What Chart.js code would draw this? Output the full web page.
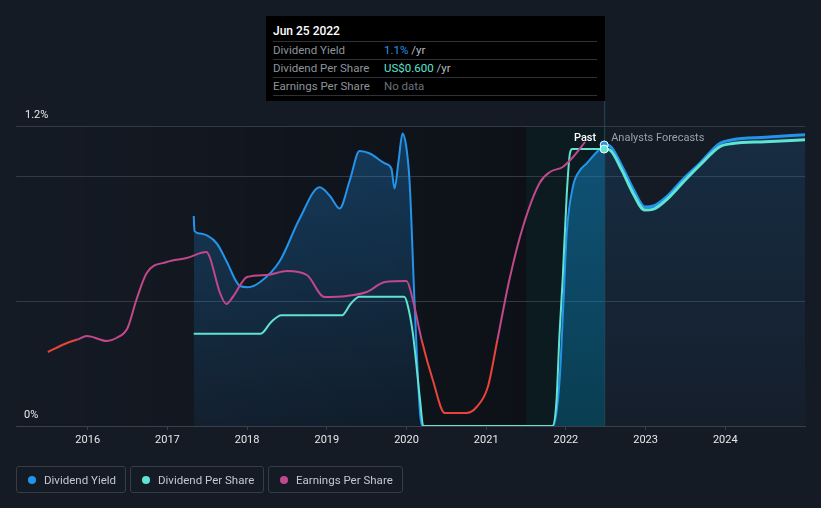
<!DOCTYPE html>
<html>
<head>
<meta charset="utf-8">
<script src="https://cdn.jsdelivr.net/npm/chart.js@4"></script>
<style>
  html, body { margin: 0; padding: 0; background: #151b25; }
  #wrap { position: relative; width: 821px; height: 508px; background: #151b25; font-family: Roboto, sans-serif; overflow: hidden; }
  #chartBox { position: absolute; left: 0; top: 0; width: 821px; height: 508px; }
  #tip { position: absolute; left: 266px; top: 16px; width: 339px; height: 85px; background: #000; box-sizing: border-box; padding: 0 8px 0 7px; }
  #tip .title { color: #fff; font-size: 12px; font-weight: 500; height: 25px; line-height: 30px; border-bottom: 1px solid #2e3138; }
  #tip .row { height: 17px; line-height: 17px; font-size: 11.5px; color: #8d939b; border-bottom: 1px solid #2e3138; display: flex; }
  #tip .row .lab { width: 111px; }
  #tip .unit { color: #b9bcc1; }
  .lg { position: absolute; top: 466px; height: 27px; border: 1px solid #363c48; border-radius: 3px; box-sizing: border-box; display: flex; align-items: center; color: #c4c8ce; font-size: 11.5px; }
  .lg .dot { width: 8px; height: 8px; border-radius: 50%; margin-left: 11px; margin-right: 8px; }
</style>
</head>
<body>
<div id="wrap">
  <div id="chartBox"><canvas id="chart"></canvas></div>
  <div id="tip">
    <div class="title">Jun 25 2022</div>
    <div class="row"><span class="lab">Dividend Yield</span><span><span style="color:#2394ea">1.1%</span> <span class="unit">/yr</span></span></div>
    <div class="row"><span class="lab">Dividend Per Share</span><span><span style="color:#5fe3d3">US$0.600</span> <span class="unit">/yr</span></span></div>
    <div class="row"><span class="lab">Earnings Per Share</span><span style="color:#6b7078">No data</span></div>
  </div>
  <div class="lg" style="left:16px;width:110px"><span class="dot" style="background:#2394ea"></span>Dividend Yield</div>
  <div class="lg" style="left:130px;width:134px"><span class="dot" style="background:#5fe3d3"></span>Dividend Per Share</div>
  <div class="lg" style="left:268px;width:135px"><span class="dot" style="background:#c1488a"></span>Earnings Per Share</div>
</div>
<script>
// x ticks and markers (decimal years)
const yearTicks = [2016, 2017, 2018, 2019, 2020, 2021, 2022, 2023, 2024];
const bandStart = 2021.5;
const todayX = 2022.48;

// Dividend yield (%), past and forecast
const yieldPastX = [2017.33, 2017.34, 2017.41, 2017.62, 2017.74, 2017.91, 2018.01, 2018.16, 2018.41, 2018.66, 2018.91, 2019.04, 2019.16, 2019.29, 2019.41, 2019.54, 2019.73, 2019.81, 2019.85, 2019.90, 2019.95, 2020.00, 2020.04, 2020.10, 2020.17, 2020.20, 2021.84, 2021.92, 2021.97, 2022.01, 2022.09, 2022.17, 2022.26, 2022.37, 2022.48];
const yieldPastY = [0.84, 0.78, 0.77, 0.73, 0.66, 0.56, 0.555, 0.575, 0.66, 0.83, 0.955, 0.92, 0.87, 0.985, 1.10, 1.09, 1.05, 1.03, 0.95, 1.06, 1.17, 1.11, 0.97, 0.50, 0.05, 0, 0, 0.18, 0.50, 0.77, 0.96, 1.02, 1.05, 1.09, 1.124];
const yieldFcX = [2022.48, 2022.55, 2022.70, 2022.84, 2022.99, 2023.10, 2023.26, 2023.48, 2023.68, 2023.93, 2024.09, 2024.50, 2025.00];
const yieldFcY = [1.124, 1.12, 1.04, 0.95, 0.876, 0.88, 0.915, 0.99, 1.05, 1.13, 1.145, 1.155, 1.165];

// Dividend per share (US$)
const dpsPastX = [2017.33, 2018.17, 2018.30, 2018.43, 2019.19, 2019.30, 2019.41, 2019.97, 2020.01, 2020.08, 2020.17, 2020.21, 2021.83, 2021.88, 2021.92, 2021.96, 2022.01, 2022.05, 2022.08, 2022.48];
const dpsPastY = [0.20, 0.20, 0.225, 0.24, 0.24, 0.265, 0.28, 0.28, 0.265, 0.20, 0.056, 0, 0, 0.05, 0.20, 0.32, 0.50, 0.59, 0.60, 0.60];
const dpsFcX = [2022.48, 2022.55, 2022.70, 2022.84, 2022.99, 2023.10, 2023.26, 2023.48, 2023.68, 2023.93, 2024.09, 2024.50, 2025.00];
const dpsFcY = [0.60, 0.598, 0.555, 0.505, 0.468, 0.47, 0.49, 0.53, 0.565, 0.605, 0.612, 0.616, 0.62];

// Earnings per share (US$)
const epsX = [2015.50, 2015.74, 2015.87, 2015.99, 2016.24, 2016.36, 2016.50, 2016.61, 2016.74, 2016.99, 2017.24, 2017.49, 2017.53, 2017.66, 2017.74, 2017.82, 2018.00, 2018.25, 2018.50, 2018.75, 2018.97, 2019.25, 2019.50, 2019.73, 2020.00, 2020.08, 2020.19, 2020.33, 2020.48, 2020.75, 2020.88, 2021.02, 2021.14, 2021.29, 2021.46, 2021.67, 2021.80, 2021.96, 2022.09, 2022.24];
const epsY = [0.74, 0.83, 0.865, 0.90, 0.85, 0.88, 0.98, 1.26, 1.53, 1.64, 1.68, 1.74, 1.69, 1.33, 1.22, 1.29, 1.49, 1.51, 1.55, 1.51, 1.29, 1.30, 1.34, 1.44, 1.45, 1.26, 0.86, 0.46, 0.13, 0.13, 0.19, 0.39, 0.86, 1.46, 1.99, 2.43, 2.54, 2.59, 2.69, 2.84];
const epsLow = 0.87;

const BLUE = '#2394ea', TEAL = '#5fe3d3', PINK = '#c1488a', RED = '#e8443a';

function pts(xs, ys) { return xs.map((x, i) => ({ x: x, y: ys[i] })); }

function vGrad(c, top, bottom) {
    const a = c.chart.chartArea;
    if (!a) return top;
    const g = c.chart.ctx.createLinearGradient(0, a.top, 0, a.bottom);
    g.addColorStop(0, top);
    g.addColorStop(1, bottom);
    return g;
}

const lastDot = n => (c => c.dataIndex === n - 1 ? 4 : 0);

const bgPlugin = {
    id: 'bg',
    beforeDraw(chart) {
        const { ctx, chartArea: a, scales: { x } } = chart;
        const xb = x.getPixelForValue(bandStart);
        const xe = x.getPixelForValue(todayX);
        ctx.save();
        const g = ctx.createLinearGradient(a.left, 0, xb, 0);
        g.addColorStop(0, 'rgba(0,0,0,0)');
        g.addColorStop(1, 'rgba(0,0,0,0.36)');
        ctx.fillStyle = g;
        ctx.fillRect(a.left, a.top, xb - a.left, a.bottom - a.top);
        ctx.fillStyle = '#0c1b20';
        ctx.fillRect(xb, a.top, xe - xb, a.bottom - a.top);
        ctx.restore();
    },
    beforeDatasetsDraw(chart) {
        const { ctx, chartArea: a, scales: { x } } = chart;
        const xe = x.getPixelForValue(todayX);
        ctx.save();
        ctx.strokeStyle = '#1f4b58';
        ctx.lineWidth = 1;
        ctx.beginPath();
        ctx.moveTo(xe + 0.5, 101);
        ctx.lineTo(xe + 0.5, a.bottom);
        ctx.stroke();
        ctx.restore();
    },
    afterDatasetsDraw(chart) {
        const { ctx, chartArea: a, scales: { x } } = chart;
        const xe = x.getPixelForValue(todayX);
        ctx.save();
        ctx.textBaseline = 'middle';
        ctx.font = '11px Roboto';
        ctx.fillStyle = '#e8e8e8';
        ctx.fillText('1.2%', 25, a.top - 11);
        ctx.fillText('0%', 24, a.bottom - 11);
        ctx.font = '500 11px Roboto';
        ctx.fillStyle = '#ffffff';
        ctx.textAlign = 'right';
        ctx.fillText('Past', xe - 8, 138);
        ctx.font = '11px Roboto';
        ctx.fillStyle = '#9aa0a8';
        ctx.textAlign = 'left';
        ctx.fillText('Analysts Forecasts', xe + 7, 138);
        ctx.restore();
    }
};

const ctx = document.getElementById('chart').getContext('2d');
Chart.defaults.font.family = 'Roboto';
const chart = new Chart(ctx, {
    type: 'line',
    data: {
        datasets: [
            {
                label: 'Earnings Per Share',
                data: pts(epsX, epsY),
                yAxisID: 'yEps',
                borderColor: PINK,
                borderWidth: 2,
                pointRadius: 0,
                fill: false,
                segment: {
                    borderColor: s => (s.p0.parsed.y < epsLow && s.p1.parsed.y < epsLow) ? RED : PINK
                }
            },
            {
                label: 'Dividend Per Share',
                data: pts(dpsPastX, dpsPastY),
                yAxisID: 'yDps',
                borderColor: TEAL,
                borderWidth: 2,
                pointRadius: lastDot(dpsPastX.length),
                pointBackgroundColor: TEAL,
                pointBorderColor: '#ffffff',
                pointBorderWidth: 1,
                fill: false
            },
            {
                label: 'Dividend Per Share forecast',
                data: pts(dpsFcX, dpsFcY),
                yAxisID: 'yDps',
                borderColor: TEAL,
                borderWidth: 3,
                pointRadius: 0,
                fill: false
            },
            {
                label: 'Dividend Yield',
                data: pts(yieldPastX, yieldPastY),
                yAxisID: 'y',
                borderColor: BLUE,
                borderWidth: 2,
                pointRadius: lastDot(yieldPastX.length),
                pointBackgroundColor: BLUE,
                pointBorderColor: '#ffffff',
                pointBorderWidth: 1,
                fill: 'origin',
                backgroundColor: c => vGrad(c, 'rgba(33,150,243,0.30)', 'rgba(33,150,243,0.07)')
            },
            {
                label: 'Dividend Yield band',
                data: pts(yieldPastX, yieldPastY).filter(p => p.x >= 2020.2),
                yAxisID: 'y',
                borderWidth: 0,
                borderColor: 'rgba(0,0,0,0)',
                pointRadius: 0,
                fill: 'origin',
                backgroundColor: 'rgba(0,130,165,0.28)'
            },
            {
                label: 'Dividend Yield forecast',
                data: pts(yieldFcX, yieldFcY),
                yAxisID: 'y',
                borderColor: BLUE,
                borderWidth: 3,
                pointRadius: 0,
                fill: 'origin',
                backgroundColor: c => vGrad(c, 'rgba(33,150,243,0.15)', 'rgba(33,150,243,0.03)')
            }
        ]
    },
    options: {
        responsive: true,
        maintainAspectRatio: false,
        animation: false,
        cubicInterpolationMode: 'monotone',
        layout: { padding: { left: 16, right: 16, top: 126, bottom: 58 } },
        plugins: {
            legend: { display: false },
            tooltip: { enabled: false }
        },
        scales: {
            x: {
                type: 'linear',
                min: 2015.1,
                max: 2025.0,
                afterBuildTicks: s => { s.ticks = yearTicks.map(v => ({ value: v })); },
                afterFit: s => { s.height = 24; },
                ticks: {
                    color: '#e8e8e8',
                    font: { size: 11 },
                    padding: 4,
                    callback: v => String(v)
                },
                grid: { drawOnChartArea: false, drawTicks: true, tickLength: 4, color: '#3a404b' },
                border: { display: true, color: '#3a404b' }
            },
            y: {
                min: 0,
                max: 1.2,
                afterBuildTicks: s => { s.ticks = [0, 0.5, 1.0, 1.2].map(v => ({ value: v })); },
                afterFit: s => { s.width = 0; },
                ticks: { display: false },
                grid: { color: '#333945', drawTicks: false },
                border: { display: false }
            },
            yDps: { display: false, min: 0, max: 0.65 },
            yEps: { display: false, min: 0, max: 3 }
        }
    },
    plugins: [bgPlugin]
});
</script>
</body>
</html>
